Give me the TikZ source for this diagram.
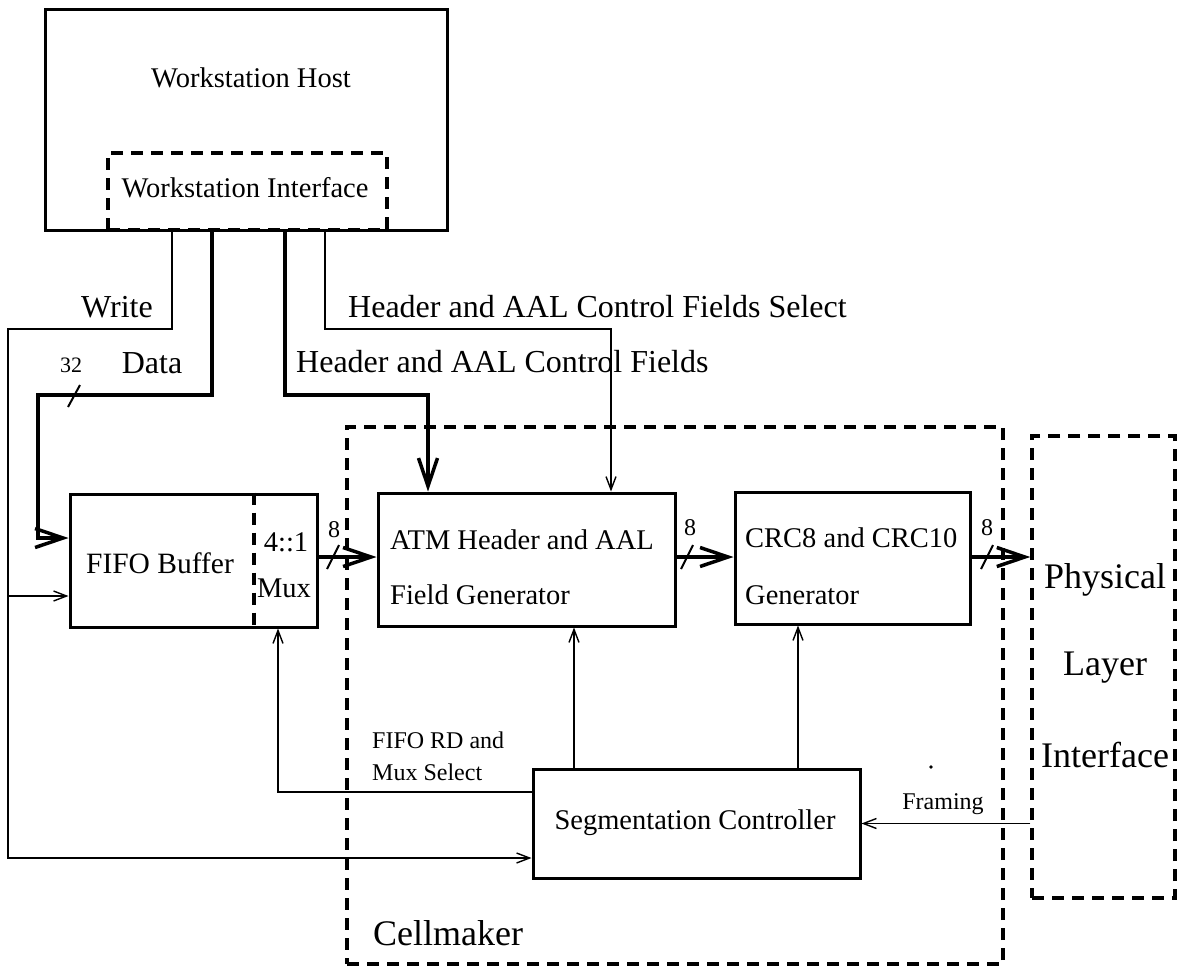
\documentclass[tikz,border=0pt]{standalone}
\usepackage{fontspec}
\setmainfont{Liberation Serif}
\usetikzlibrary{arrows.meta}
\newcommand{\fs}[1]{\fontsize{#1}{#1}\selectfont}
\begin{document}
\begin{tikzpicture}[x=1pt,y=-1pt,
  box/.style={draw,line width=3pt,minimum width=#1,inner sep=0pt},
  dbox/.style={draw,line width=3.5pt,dash pattern=on 12pt off 8pt},
  sig/.style={line width=1.4pt,-{Straight Barb[length=13pt,width=10pt]}},
  sigl/.style={line width=1.4pt},
  bus/.style={line width=3.5pt,-{Straight Barb[length=28pt,width=19pt]}},
  busl/.style={line width=3.5pt},
  slash/.style={line width=2pt},
  txt/.style={inner sep=0pt,font=\fs{28.5}},
  big/.style={inner sep=0pt,font=\fs{32}},
  small/.style={inner sep=0pt,font=\fs{24}}]
\useasboundingbox (0,0) rectangle (1177,969);

% boxes
\node[draw,line width=3pt,minimum width=402pt,minimum height=221pt,inner sep=0pt] (host) at (246,119.5) {};
\node[draw,line width=3pt,minimum width=247pt,minimum height=133pt,inner sep=0pt] (fifo) at (193.5,560.5) {};
\node[draw,line width=3pt,minimum width=297pt,minimum height=133pt,inner sep=0pt] (atm) at (526.5,559.5) {};
\node[draw,line width=3pt,minimum width=235pt,minimum height=132pt,inner sep=0pt] (crc) at (852.5,558) {};
\node[draw,line width=3pt,minimum width=327pt,minimum height=109pt,inner sep=0pt] (seg) at (696.5,823.5) {};
\node[dbox,minimum width=279pt,minimum height=77pt,inner sep=0pt] (wsi) at (247.5,191.5) {};
\node[dbox,minimum width=656pt,minimum height=537pt,inner sep=0pt] (cell) at (675,695.5) {};
\node[dbox,minimum width=143pt,minimum height=462pt,inner sep=0pt] (phys) at (1103.5,667) {};
\draw[line width=3.5pt,dash pattern=on 12pt off 8pt] (fifo.north -| 254,0) -- (fifo.south -| 254,0);

% texts
\node[txt] (twh) at (251,78) {Workstation Host};
\node[txt] (twi) at (245,188) {Workstation Interface};
\node[txt,font=\fs{29.5}] (tfifo) at (160,563) {FIFO Buffer};
\node[txt] (tmux1) at (286,542) {4::1};
\node[txt] (tmux2) at (284,588) {Mux};
\node[txt,anchor=west] (tatm1) at (390,540) {ATM Header and AAL};
\node[txt,anchor=west] (tatm2) at (390,595) {Field Generator};
\node[txt,anchor=west] (tcrc1) at (745,538) {CRC8 and CRC10};
\node[txt,anchor=west] (tcrc2) at (745,595) {Generator};
\node[txt] (tseg) at (695,823) {Segmentation Controller};
\node[inner sep=0pt,font=\fs{36}] (tph1) at (1105,580) {Physical};
\node[inner sep=0pt,font=\fs{36}] (tph2) at (1105,668) {Layer};
\node[inner sep=0pt,font=\fs{36}] (tph3) at (1105,755) {Interface};
\node[inner sep=0pt,font=\fs{36},anchor=west] (tcell) at (373,933) {Cellmaker};

\node[big] (twr) at (117,307) {Write};
\node[big] (tda) at (152,363) {Data};
\node[inner sep=0pt,font=\fs{22}] (t32) at (71,365) {32};
\node[big,anchor=west] (thsel) at (348,307) {Header and AAL Control Fields Select};
\node[big,anchor=west] (thf) at (296,362) {Header and AAL Control Fields};
\node[small] (t8a) at (334,530) {8};
\node[small] (t8b) at (690,528) {8};
\node[small] (t8c) at (987,528) {8};
\node[small,anchor=west] (tfr1) at (372,740) {FIFO RD and};
\node[small,anchor=west] (tfr2) at (372,772) {Mux Select};
\node[small] (tfram) at (943,804) {Framing};
\fill (931,767) circle (1.8pt);

% coordinates
\coordinate (wA) at (8,329);
\coordinate (wB) at (8,858);
\coordinate (wC) at (8,596);
\coordinate (dA) at (38,395);
\coordinate (dB) at (38,538);
\coordinate (hA) at (428,395);
\coordinate (sA) at (611,329);
\coordinate (fA) at (278,792);

% Write line
\draw[sig] (host.south -| 172,0) |- (wA) -- (wB) -- (seg.west |- wB);
\draw[sig] (wC) -- (fifo.west |- wC);
% Data bus
\draw[bus] (host.south -| 212,0) |- (dA) -- (dB) -- (fifo.west |- dB);
\draw[slash] (68,407) -- (80,385);
% Header fields bus
\draw[bus] (host.south -| 285,0) |- (hA) -- (atm.north -| hA);
% Select
\draw[sig] (host.south -| 325,0) |- (sA) -- (atm.north -| sA);
% internal buses
\draw[bus] (fifo.east |- 0,557) -- (atm.west |- 0,557);
\draw[slash] (327,569) -- (339,545);
\draw[bus] (atm.east |- 0,557) -- (crc.west |- 0,557);
\draw[slash] (681,569) -- (693,545);
\draw[bus] (crc.east |- 0,557) -- (phys.west |- 0,557);
\draw[slash] (981,569) -- (993,545);
% control
\draw[sig] (seg.north -| 574,0) -- (atm.south -| 574,0);
\draw[sig] (seg.north -| 798,0) -- (crc.south -| 798,0);
\draw[sig] (seg.west |- fA) -| (fifo.south -| fA);
\draw[sig] (phys.west |- seg.east) -- (seg.east);
\end{tikzpicture}
\end{document}
